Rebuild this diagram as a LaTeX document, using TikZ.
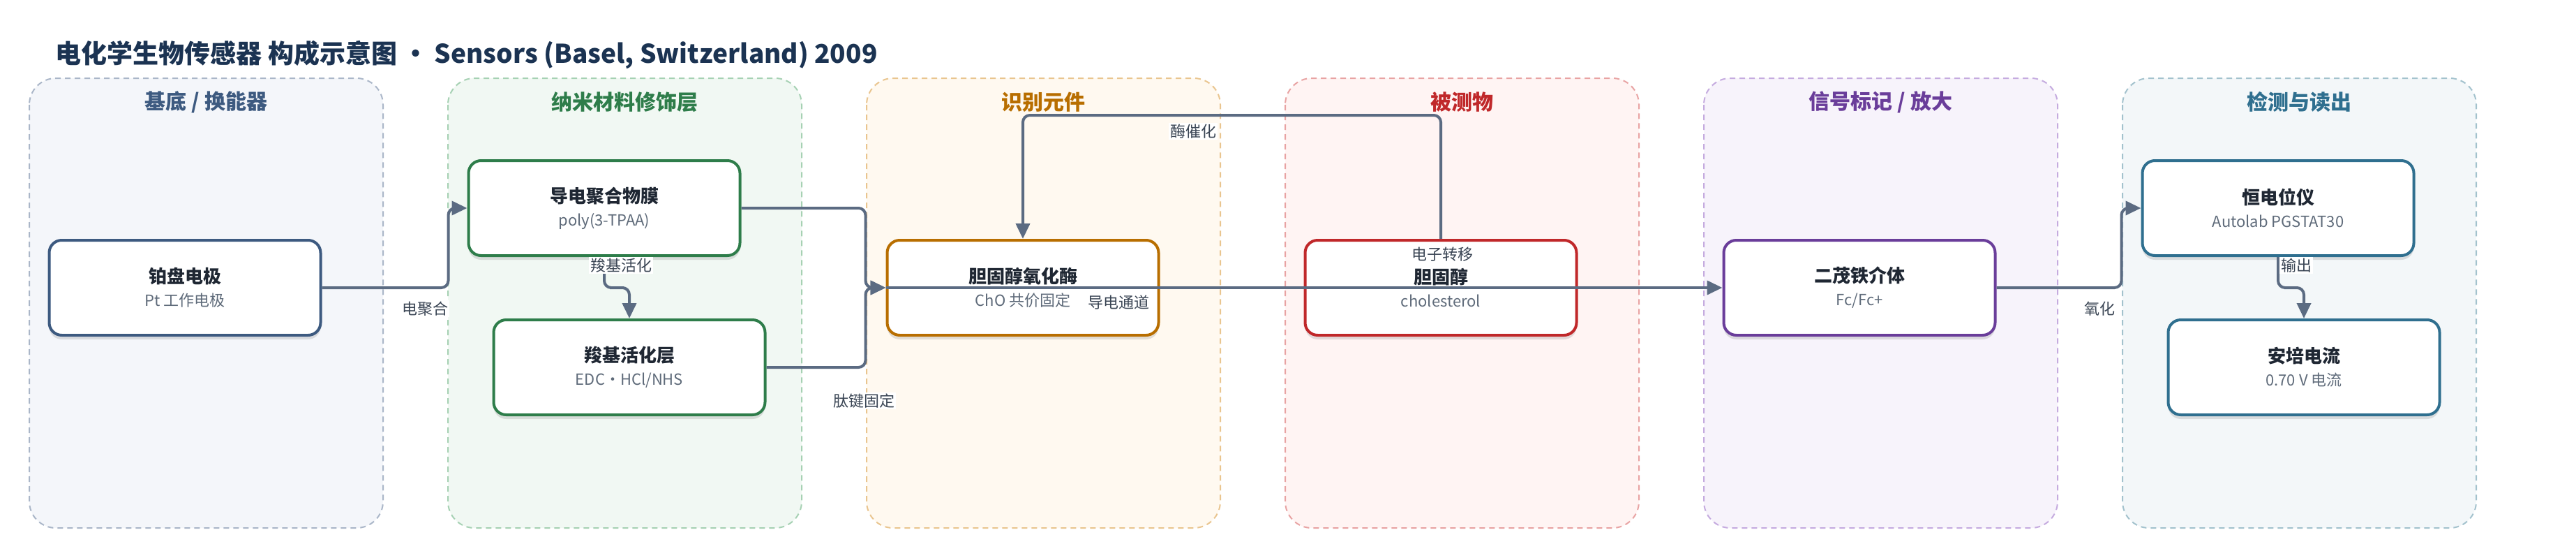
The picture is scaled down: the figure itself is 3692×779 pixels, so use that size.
\documentclass[tikz,border=0pt]{standalone}
\usepackage{fontspec}
\setmainfont{Noto Sans CJK SC}
\usepackage{tikz}
\usetikzlibrary{calc,shadows,arrows.meta}
\definecolor{headline}{HTML}{1B3352}
\definecolor{ink}{HTML}{1F2733}
\definecolor{subink}{HTML}{5F6B7A}
\definecolor{edgeink}{HTML}{3A4554}
\definecolor{wire}{HTML}{5B6B82}
\definecolor{base-fill}{HTML}{F4F6FA}\definecolor{base-line}{HTML}{AAB6C8}\definecolor{base-title}{HTML}{3D5A80}
\definecolor{nano-fill}{HTML}{F1F8F3}\definecolor{nano-line}{HTML}{A6D1B3}\definecolor{nano-title}{HTML}{2E7D4A}
\definecolor{recog-fill}{HTML}{FFF9F0}\definecolor{recog-line}{HTML}{E9C58F}\definecolor{recog-title}{HTML}{B86E00}
\definecolor{target-fill}{HTML}{FFF4F3}\definecolor{target-line}{HTML}{E8A3A3}\definecolor{target-title}{HTML}{C0282A}
\definecolor{signal-fill}{HTML}{F7F3FB}\definecolor{signal-line}{HTML}{C5ABDF}\definecolor{signal-title}{HTML}{6A3D9A}
\definecolor{readout-fill}{HTML}{F3F7F9}\definecolor{readout-line}{HTML}{A3C2CD}\definecolor{readout-title}{HTML}{2F6F8F}
\newcommand\unitnode[5]{%
  \node[unit, draw=#3-title] (#1) at (#2) {{\bfseries\color{ink}#4}\\{\fontsize{22}{33}\selectfont\color{subink}#5}};
}
\newcommand\elbow[3]{%
  \draw[flow] (#1.east) -| ($(#2.west)+(-#3,0)$) -- (#2.west);
}
\newcommand\drop[2]{%
  \draw[flow] (#1.south) |- ($(#1.south)!0.5!(#2.north)$) -| (#2.north);
}

\begin{document}
\begin{tikzpicture}
[x=1pt, y=-1pt,
 lane/.style={rounded corners=38pt, dash pattern=on 8pt off 6pt, line width=2pt},
 lanetitle/.style={font=\fontsize{30}{36}\selectfont\bfseries},
 unit/.style={rectangle, rounded corners=18pt, line width=4pt, fill=white, inner sep=0pt,
   minimum width=389pt, minimum height=136pt, align=center, font=\fontsize{26}{33}\selectfont,
   drop shadow={shadow xshift=0pt, shadow yshift=-6pt, opacity=0.16, fill=black!70}},
 flow/.style={draw=wire, line width=4pt, rounded corners=10pt, -{Triangle[length=22pt, width=20pt]}},
 elabel/.style={font=\fontsize{22}{26}\selectfont, text=edgeink, fill=white, inner sep=2pt}]
\useasboundingbox (0,0) rectangle (3692,779);
\node[anchor=base west, font=\fontsize{37}{44}\selectfont\bfseries, text=headline] (title) at (76,90)
  {电化学生物传感器 构成示意图 · Sensors (Basel, Switzerland) 2009};
\foreach \i/\tone/\lab in {0/base/{基底 / 换能器}, 1/nano/纳米材料修饰层, 2/recog/识别元件,
                           3/target/被测物, 4/signal/{信号标记 / 放大}, 5/readout/检测与读出}
  { \path[lane, fill=\tone-fill, draw=\tone-line] (42+600*\i,112) rectangle ++(507,644);
    \node[lanetitle, text=\tone-title] (lane\i) at (295.5+600*\i,146) {\lab};
  }
\unitnode{electrode}{265,412} {base}   {铂盘电极}    {Pt 工作电极}
\unitnode{film}     {866,298} {nano}   {导电聚合物膜} {poly(3-TPAA)}
\unitnode{activ}    {902,526} {nano}   {羧基活化层}  {EDC·HCl/NHS}
\unitnode{enzyme}   {1466,412}{recog}  {胆固醇氧化酶} {ChO 共价固定}
\unitnode{analyte}  {2065,412}{target} {胆固醇}     {cholesterol}
\unitnode{mediator} {2665,412}{signal} {二茂铁介体}  {Fc/Fc+}
\unitnode{potstat}  {3265,298}{readout}{恒电位仪}    {Autolab PGSTAT30}
\unitnode{current}  {3302,526}{readout}{安培电流}    {0.70 V 电流}
\elbow{electrode}{film}{27}
\elbow{film}{enzyme}{29}
\elbow{activ}{enzyme}{29}
\elbow{mediator}{potstat}{28}
\drop{film}{activ}
\drop{potstat}{current}
\draw[flow] (analyte.north) -- ++(0,-177) -| (enzyme.north);
\draw[flow] (enzyme.west) -- (mediator.west);
\node[elabel] (l-poly)   at (609,442)  {电聚合};
\node[elabel] (l-activ)  at (890,380)  {羧基活化};
\node[elabel] (l-amide)  at (1238,574) {肽键固定};
\node[elabel] (l-cat)    at (1710,188) {酶催化};
\node[elabel] (l-etrans) at (2067,364) {电子转移};
\node[elabel] (l-cond)   at (1603,433) {导电通道};
\node[elabel] (l-ox)     at (3009,442) {氧化};
\node[elabel] (l-out)    at (3291,380) {输出};
\end{tikzpicture}
\end{document}
